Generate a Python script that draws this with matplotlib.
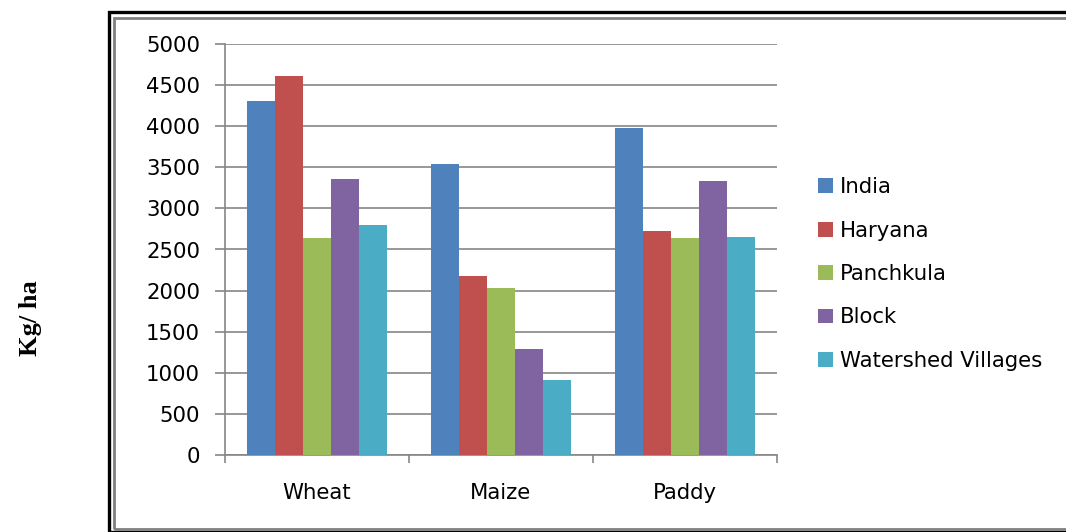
import numpy as np
import matplotlib.pyplot as plt
from matplotlib.patches import Rectangle

# crop yield data (Kg/ha)
crops = ["Wheat", "Maize", "Paddy"]
regions = ["India", "Haryana", "Panchkula", "Block", "Watershed Villages"]
india = [4305, 3540, 3980]
haryana = [4610, 2175, 2725]
panchkula = [2640, 2030, 2640]
block = [3360, 1290, 3335]
watershed = [2800, 910, 2650]
colors = ["#4F81BD", "#C0504D", "#9BBB59", "#8064A2", "#4BACC6"]

series = [india, haryana, panchkula, block, watershed]

W, H = 1066, 532
fig = plt.figure(figsize=(W / 100, H / 100), dpi=100)
fig.patch.set_facecolor("white")

# double border around the chart area
fig.patches.append(Rectangle((109 / W, 0.5 / H), 1.2, (H - 12.5) / H, transform=fig.transFigure,
                             fill=False, edgecolor="black", lw=2.4))
fig.patches.append(Rectangle((114 / W, 3 / H), 1.2, (H - 21) / H, transform=fig.transFigure,
                             fill=False, edgecolor="#808080", lw=2))

ax = fig.add_axes([225 / W, 1 - 455 / H, 552 / W, 411 / H])

x = np.arange(len(crops))
n = len(series)
group = 0.76
bw = group / n
for i, (vals, name, c) in enumerate(zip(series, regions, colors)):
    ax.bar(x - group / 2 + bw * (i + 0.5), vals, width=bw, color=c, label=name, zorder=3)

ax.set_xlim(-0.5, len(crops) - 0.5)
ax.set_ylim(0, 5000)
ax.set_yticks(np.arange(0, 5001, 500))
ax.yaxis.grid(True, color="#868686", lw=1.2, zorder=0)
ax.set_axisbelow(True)

gray = "#868686"
for s in ["top", "right"]:
    ax.spines[s].set_visible(False)
for s in ["left", "bottom"]:
    ax.spines[s].set_color(gray)
    ax.spines[s].set_linewidth(1.2)

fs = 15.3
ax.set_xticks(x)
ax.set_xticklabels(crops)
ax.set_xticks(np.arange(-0.5, len(crops), 1), minor=True)
ax.tick_params(axis="x", which="major", length=0, pad=20, labelsize=fs)
ax.tick_params(axis="x", which="minor", length=6, color=gray, width=1.2)
ax.tick_params(axis="y", length=7, color=gray, width=1.2, pad=11, labelsize=fs)
for lab in ax.get_xticklabels() + ax.get_yticklabels():
    lab.set_fontfamily("DejaVu Sans")

fig.text(30 / W, 1 - 318 / H, "Kg/ ha", rotation=90, ha="center", va="center",
         fontsize=19, fontweight="bold", fontfamily="Liberation Serif")

ax.legend(loc="center left", bbox_to_anchor=(818 / W, 1 - 274 / H), bbox_transform=fig.transFigure,
          frameon=False, prop={"family": "DejaVu Sans", "size": fs},
          handlelength=0.7, handleheight=0.7, handletextpad=0.35, labelspacing=1.1,
          borderpad=0, borderaxespad=0)

plt.savefig("out.png", dpi=100)
